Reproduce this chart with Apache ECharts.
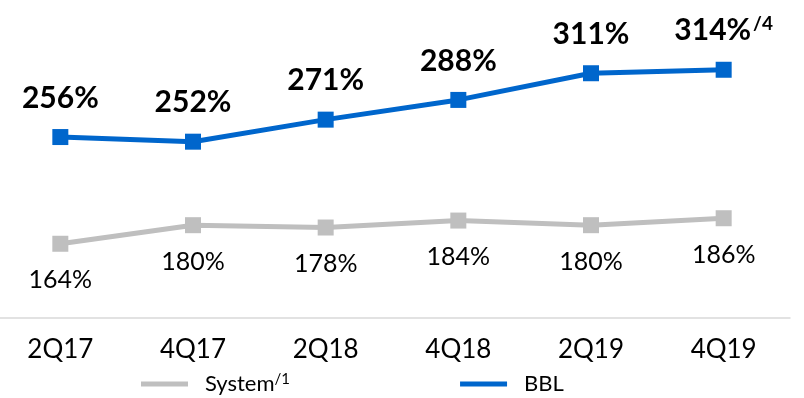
<!DOCTYPE html>
<html>
<head>
<meta charset="utf-8">
<script src="https://cdn.jsdelivr.net/npm/echarts@6/dist/echarts.min.js"></script>
<style>
  html, body { margin: 0; padding: 0; background: #ffffff; }
  #chart { width: 804px; height: 398px; }
</style>
</head>
<body>
<div id="chart"></div>
<script>
// Liquidity coverage ratio by half-year
const categories = ['2Q17', '4Q17', '2Q18', '4Q18', '2Q19', '4Q19'];
const bblValues = [256, 252, 271, 288, 311, 314];
const systemValues = [164, 180, 178, 184, 180, 186];
// footnote markers attached to individual BBL labels
const bblNotes = ['', '', '', '', '', '/4'];

const FONT = 'Lato, "Open Sans", sans-serif';
const BLUE = '#0066cc';
const GREY = '#bfbfbf';

const chart = echarts.init(document.getElementById('chart'));
chart.setOption({
  animation: false,
  textStyle: { fontFamily: FONT },
  grid: { left: -6, right: 14, top: 28, bottom: 80, containLabel: false, outerBoundsMode: 'none' },
  legend: {
    data: ['System', 'BBL'],
    left: 136,
    bottom: -2,
    itemWidth: 47,
    itemHeight: 5,
    itemGap: 170,
    icon: 'rect',
    textStyle: {
      fontFamily: FONT,
      fontSize: 22,
      color: '#000',
      padding: [0, 0, 0, 12],
      rich: {
        n: { fontFamily: FONT, fontSize: 22, color: '#000', lineHeight: 24 },
        s: { fontFamily: FONT, fontSize: 15, color: '#000', verticalAlign: 'top', lineHeight: 15 }
      }
    },
    formatter: function (name) {
      return name === 'System' ? '{n|System}{s|/1}' : '{n|' + name + '}';
    }
  },
  xAxis: {
    type: 'category',
    data: categories,
    boundaryGap: true,
    axisLine: { lineStyle: { color: '#d9d9d9', width: 1.5 } },
    axisTick: { show: false },
    axisLabel: { color: '#000', fontSize: 26, fontFamily: FONT, margin: 19 }
  },
  yAxis: {
    type: 'value',
    min: 100,
    max: 350,
    show: false,
    splitLine: { show: false }
  },
  series: [
    {
      name: 'System',
      type: 'line',
      data: systemValues,
      symbol: 'rect',
      symbolSize: 16,
      lineStyle: { color: GREY, width: 5 },
      itemStyle: { color: GREY },
      label: {
        show: true,
        position: 'bottom',
        distance: 16,
        color: '#000',
        fontSize: 25,
        fontFamily: FONT,
        formatter: function (p) { return p.value + '%'; }
      },
      z: 2
    },
    {
      name: 'BBL',
      type: 'line',
      data: bblValues,
      symbol: 'rect',
      symbolSize: 16,
      lineStyle: { color: BLUE, width: 5 },
      itemStyle: { color: BLUE },
      label: {
        show: true,
        position: 'top',
        distance: 15,
        color: '#000',
        fontSize: 30,
        fontWeight: 'bold',
        fontFamily: FONT,
        rich: {
          v: { fontSize: 30, fontWeight: 'bold', fontFamily: FONT, color: '#000', lineHeight: 32 },
          s: { fontSize: 19, fontFamily: FONT, color: '#000', verticalAlign: 'top', lineHeight: 19, padding: [0, 0, 0, 2] }
        },
        formatter: function (p) {
          const note = bblNotes[p.dataIndex];
          return note ? '{v|' + p.value + '%}{s|' + note + '}' : '{v|' + p.value + '%}';
        }
      },
      z: 3
    }
  ]
});
</script>
</body>
</html>
